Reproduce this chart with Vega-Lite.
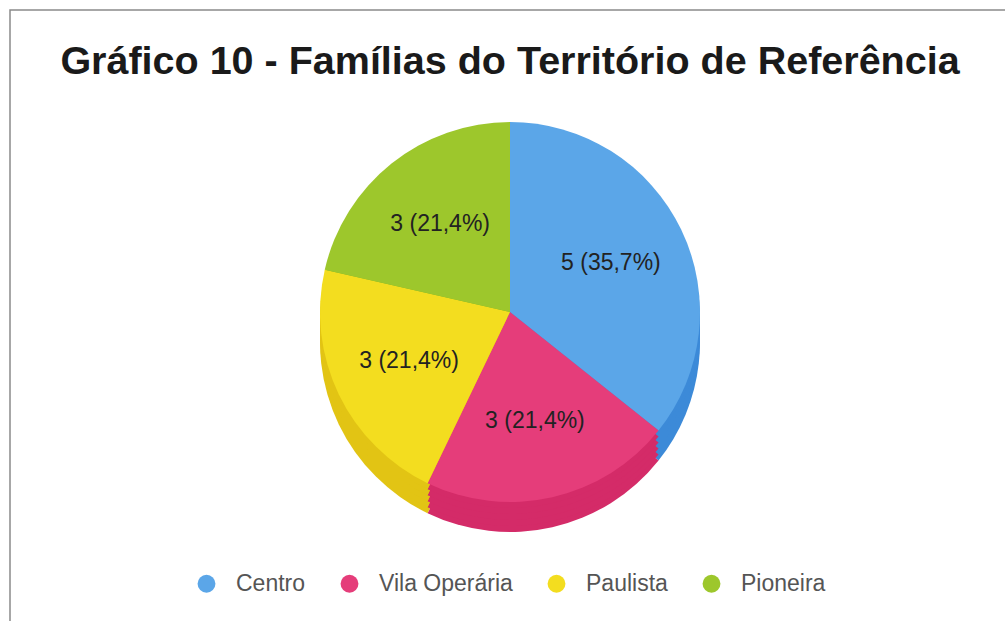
{
  "$schema": "https://vega.github.io/schema/vega-lite/v6.json",
  "autosize": {"type": "none"},
  "width": 1000,
  "height": 620,
  "padding": {"left": 10, "top": 10, "right": 0, "bottom": 0},
  "background": "white",
  "view": {"stroke": "#8a8a8a", "strokeWidth": 1.5, "fill": "white"},
  "config": {
    "view": {"stroke": "#8a8a8a", "strokeWidth": 1.5},
    "font": "Arial, Liberation Sans, sans-serif"
  },
  "title": {
    "text": "Gráfico 10 - Famílias do Território de Referência",
    "orient": "top",
    "anchor": "middle",
    "frame": "group",
    "offset": -72,
    "fontSize": 39.5,
    "fontWeight": "bold",
    "font": "Arial, Liberation Sans, sans-serif",
    "color": "#1a1a1a"
  },
  "data": {
    "values": [
      {"bairro": "Centro", "familias": 5, "ordem": 1, "rotulo": "5 (35,7%)"},
      {"bairro": "Vila Operária", "familias": 3, "ordem": 2, "rotulo": "3 (21,4%)"},
      {"bairro": "Paulista", "familias": 3, "ordem": 3, "rotulo": "3 (21,4%)"},
      {"bairro": "Pioneira", "familias": 3, "ordem": 4, "rotulo": "3 (21,4%)"}
    ]
  },
  "encoding": {
    "theta": {"field": "familias", "type": "quantitative", "stack": true},
    "order": {"field": "ordem", "type": "quantitative"}
  },
  "layer": [
    {
      "mark": {"type": "arc", "outerRadius": 190, "yOffset": 22},
      "encoding": {
        "color": {
          "field": "bairro", "type": "nominal", "legend": null,
          "scale": {"domain": ["Centro", "Vila Operária", "Paulista", "Pioneira"],
                    "range": ["#3c8ad8", "#d42b68", "#e2c414", "#86b21f"]}
        }
      }
    },
    {
      "mark": {"type": "arc", "outerRadius": 190, "yOffset": 16},
      "encoding": {
        "color": {
          "field": "bairro", "type": "nominal", "legend": null,
          "scale": {"domain": ["Centro", "Vila Operária", "Paulista", "Pioneira"],
                    "range": ["#3c8ad8", "#d42b68", "#e2c414", "#86b21f"]}
        }
      }
    },
    {
      "mark": {"type": "arc", "outerRadius": 190, "yOffset": 10},
      "encoding": {
        "color": {
          "field": "bairro", "type": "nominal", "legend": null,
          "scale": {"domain": ["Centro", "Vila Operária", "Paulista", "Pioneira"],
                    "range": ["#3c8ad8", "#d42b68", "#e2c414", "#86b21f"]}
        }
      }
    },
    {
      "mark": {"type": "arc", "outerRadius": 190, "yOffset": 4},
      "encoding": {
        "color": {
          "field": "bairro", "type": "nominal", "legend": null,
          "scale": {"domain": ["Centro", "Vila Operária", "Paulista", "Pioneira"],
                    "range": ["#3c8ad8", "#d42b68", "#e2c414", "#86b21f"]}
        }
      }
    },
    {
      "mark": {"type": "arc", "outerRadius": 190, "yOffset": -2},
      "encoding": {
        "color": {
          "field": "bairro", "type": "nominal", "legend": null,
          "scale": {"domain": ["Centro", "Vila Operária", "Paulista", "Pioneira"],
                    "range": ["#3c8ad8", "#d42b68", "#e2c414", "#86b21f"]}
        }
      }
    },
    {
      "mark": {"type": "arc", "outerRadius": 190, "yOffset": -8},
      "encoding": {
        "color": {
          "field": "bairro", "type": "nominal", "title": null,
          "scale": {"domain": ["Centro", "Vila Operária", "Paulista", "Pioneira"],
                    "range": ["#5ba6e8", "#e53d7a", "#f3dd1f", "#9dc72c"]},
          "legend": {
            "orient": "none",
            "direction": "horizontal",
            "legendX": 185,
            "legendY": 562,
            "symbolType": "circle",
            "symbolSize": 320,
            "symbolStrokeWidth": 0,
            "labelFontSize": 23,
            "labelColor": "#555555",
            "labelFont": "Arial, Liberation Sans, sans-serif",
            "labelOffset": 18,
            "columnPadding": 32
          }
        }
      }
    },
    {
      "mark": {"type": "text", "radius": 112, "yOffset": -8, "fontSize": 23, "color": "#222222", "font": "Arial, Liberation Sans, sans-serif"},
      "encoding": {
        "text": {"field": "rotulo", "type": "nominal"}
      }
    }
  ],
  "resolve": {"scale": {"color": "independent"}}
}
